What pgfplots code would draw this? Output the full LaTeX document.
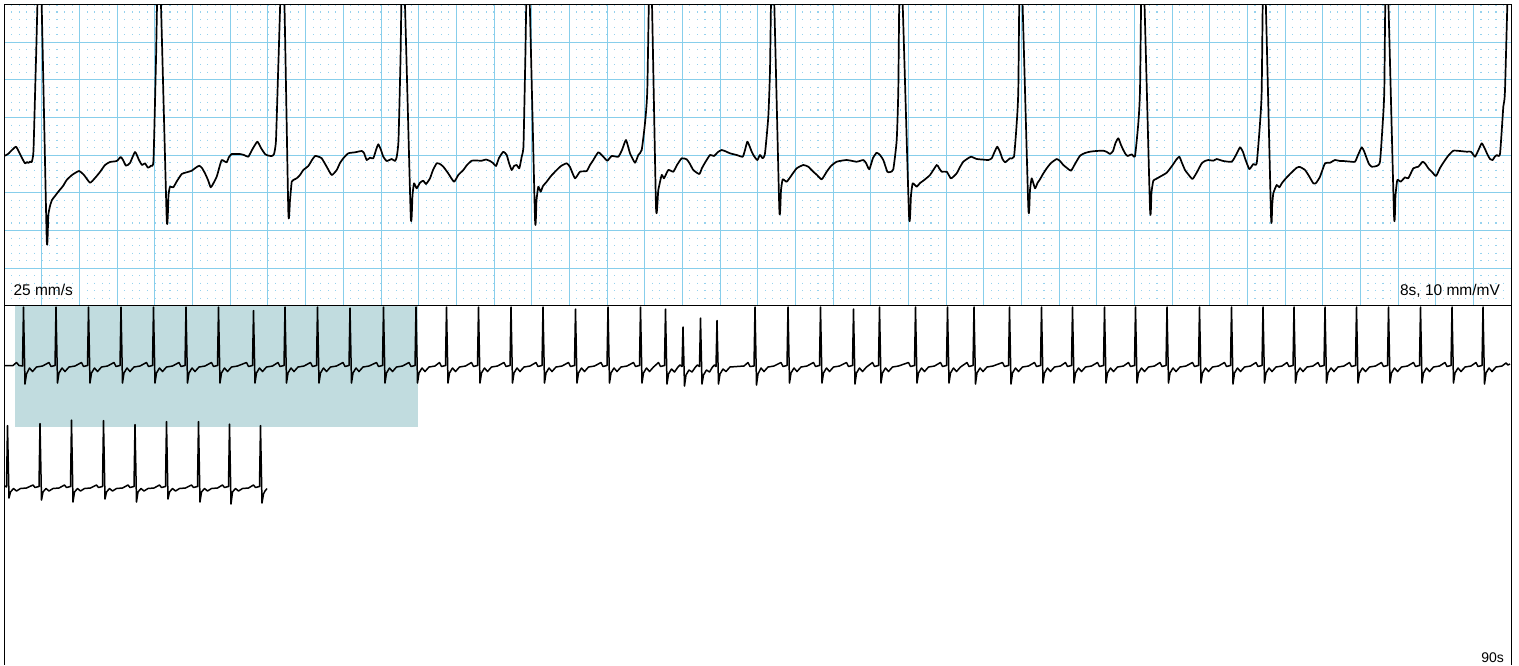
\documentclass[border=0pt]{standalone}
\usepackage{fontspec}
\setmainfont{Liberation Sans}
\usepackage{pgfplots}
\pgfplotsset{compat=1.18}
\definecolor{gridblue}{RGB}{135,206,235}
\definecolor{dotblue}{RGB}{150,210,238}
\definecolor{hl}{RGB}{193,220,223}
\begin{document}
\begin{tikzpicture}
\useasboundingbox (0pt,0pt) rectangle (1519pt,-665pt);
% ---------------- top panel: 8 s strip ----------------
\begin{axis}[
  x=1pt, y=1pt, y dir=reverse,
  anchor=north west, at={(4.3pt,-4.5pt)},
  xmin=4.3, xmax=1511.1, ymin=4.5, ymax=305.86,
  xtick={4.3,41.97,...,1512}, ytick={4.5,42.17,...,307},
  minor xtick={4.3,11.834,...,1512},
  xticklabels={}, yticklabels={},
  major tick length=0pt, minor tick length=0pt,
  xmajorgrids, ymajorgrids, xminorgrids,
  major grid style={gridblue, line width=1pt},
  minor grid style={dotblue, line width=1.1pt, dash pattern=on 1.1pt off 6.434pt, dash phase=0.55pt},
  axis line style={black, line width=1.2pt},
]
\addplot[black, line width=1.7pt, line join=round, smooth, tension=0.3] coordinates {
(4.7,155.7) (8,154) (12,150) (16,146.7) (19,152) (22,158) (25,163.3) (27,162) (28.5,163) (30,161.5) (31.7,162)
(33.5,150) (36,60) (40,-60) (46.7,238.3) (48.3,215) (50,206) (52,200) (55,196) (58.3,191.7) (63,186) (66.7,180) (72,175) (79,171) (84,175) (90,182.7) (95,178) (100,172) (105,165) (110,162) (116.7,161) (120.7,157) (123,160) (126,165.7) (130,163) (135,152) (139,160) (142,165) (145,163.3) (148,167.7) (151,165.7)
(153.5,160) (156,60) (159,-60) (166.7,218.3) (168.5,195) (170,186.7) (173.3,187.3) (177,181) (181.7,174) (186,172.5) (191.7,170.7) (196,167.5) (199.3,165.7) (202,168) (205,173.3) (208,180) (210.7,187.3) (213,184) (216.7,176.7) (220,165) (221.7,160) (224,161) (226.7,162.3) (229,157) (231.7,154) (236,154) (240,154) (244,155) (248.3,156.7) (252,150) (257.3,141.7) (261,148) (265,154) (268,155.5) (271.7,156) (274,154)
(276,140) (278.5,60) (283,-60) (288.3,210.7) (290,200) (291.7,181.7) (293.3,180) (296.7,178.3) (300,175) (303.3,170) (308.3,166) (312,160) (315,156) (318,156.5) (321.7,158.3) (326.7,166.7) (331.7,175) (336.7,170) (340,163) (343.3,158.3) (348.3,153.3) (355,152.3) (361.7,151) (364,153) (366.7,160) (370,157.7) (373.3,158.3) (376,150) (378.3,144.3) (381,150) (383.3,156.7) (386.7,161) (391.7,159) (395,161) (396.7,157)
(398.5,140) (400.5,60) (403,-60) (410.7,215) (412.5,195) (414,183.3) (416.7,188.3) (420,182.7) (423.3,180.7) (426,184) (430,178.3) (433,170) (436.7,163.3) (440,164) (443.3,166.7) (448,173) (454,181.7) (458.3,175) (463.3,170) (467,165) (471.7,160.7) (476,160.5) (481.7,160.7) (486,159.5) (490,161) (493,163) (496,166) (499,158) (503.3,151.7) (506.7,155) (509,163) (511.7,170) (514,166) (516.7,165) (519.3,168.3) (521.7,156.7)
(523.5,145) (525.3,60) (528,-60) (535,218.3) (536.5,200) (538.3,186.7) (540.7,191.7) (543,186) (546.7,181.7) (551,176) (556.7,170) (561,166) (566.7,163.3) (570,167) (575,178.3) (580,171.7) (586.7,171) (590,165) (593.3,160) (598.3,152.3) (603.3,156.7) (607.3,160.7) (611.7,156) (618.3,156.7) (622,150) (626,140) (630,153.3) (635,162.7) (638.3,155) (641.7,150)
(645,123) (647.3,90) (650.5,-60) (656,206.7) (658.3,190) (661.7,175) (664,178.3) (668.3,170) (673.3,171.7) (677,165) (681.7,158.3) (686.7,159.3) (690,164) (693.3,170) (699.3,174) (702,168) (705,162.7) (710,155) (714,156) (718,152) (721.7,150) (726,151.5) (730,153.3) (736.7,155) (742.7,156.7) (745,150) (747.3,141.7) (749.5,146) (751.7,151.7) (754,156) (757.3,160) (760,155) (762.7,158.3) (765,153.3)
(768.3,116.7) (770,70) (772.5,-60) (779.3,208.3) (781,190) (782.7,179.3) (786.7,181.7) (791.7,175) (796.7,168.3) (803.3,165) (808.3,166.7) (813.3,171.7) (817,175) (821.7,179.3) (826.7,171.7) (831,166) (836.7,161.7) (846.7,160) (856.7,161.7) (863.3,160) (866,163) (869.3,169.3) (873,158) (876.7,152.7) (880,155) (883.3,160) (887.3,171.7) (890,172) (893.3,169.3)
(896.7,140) (898.3,90) (900.5,-60) (909,215) (911,195) (912.7,183.3) (916.7,186.7) (920,183) (923.3,180.7) (930,175) (936.7,165) (939,168) (941.7,171.7) (946.7,171.7) (950.7,178.3) (953,177) (956.7,173.3) (960,167) (963.3,161.7) (967,159) (971,156.7) (976.7,159) (982,159.5) (988.3,160) (991.7,158.3) (994.5,152) (997.3,146.7) (1000,152) (1002.5,159) (1005,162.3) (1008,160) (1010,158.3) (1014,156.7)
(1016.7,123.3) (1018.3,90) (1020.5,-60) (1028.3,206.7) (1030,190) (1031.7,178.3) (1035,188.3) (1037.5,183) (1040,179.3) (1043,174) (1046.7,168.3) (1051,163) (1056.7,159) (1060,161) (1063.3,165) (1067,168) (1071,170.7) (1075,164) (1080,155.7) (1085,153) (1090,151.7) (1096,151) (1103.3,150.7) (1107,152) (1110,154) (1113,151) (1115.5,143) (1118.3,138.3) (1121,145) (1123.3,150) (1125.5,154) (1127.7,156) (1131.7,154.3) (1135,156)
(1138.3,123.3) (1140,90) (1142.5,-60) (1150,208.3) (1151.5,192) (1153.3,180.7) (1156,179) (1160,176.7) (1166.7,172.7) (1172.7,165) (1176,160) (1179.3,156.7) (1182,163) (1185,170) (1188,174) (1192.5,179) (1197,172) (1201.7,163.3) (1205,161) (1208.3,160) (1213.3,160.7) (1216.7,159) (1223.3,161) (1231.7,161.7) (1236,155) (1240,147.3) (1243,152) (1245,158.3) (1249.3,169) (1253.3,164) (1256.7,163.3)
(1260,123.3) (1261.7,90) (1264,-60) (1271,215) (1272.2,205) (1273.3,193.3) (1276.7,185) (1279.3,187.3) (1282,183) (1285,179.3) (1290,174) (1296.7,167.7) (1300,167) (1305,170) (1309,176) (1313.3,183.3) (1316,183) (1320,176.7) (1325,163.3) (1330,162.7) (1335,160) (1340,161) (1343.3,161) (1349,161.5) (1355,161.7) (1358,155) (1361.7,147.3) (1364,151) (1366.7,158.3) (1369,164) (1371.7,166.7) (1376.7,166) (1380,161.7)
(1382.7,123.3) (1384.3,90) (1386.5,-60) (1394,215) (1395.5,195) (1397.3,180) (1400.7,181.7) (1405,177.3) (1408.3,178.3) (1413.3,168.3) (1418.3,166.7) (1422.7,161.7) (1425.5,164) (1428.3,168.3) (1432,172) (1436,176) (1440,168) (1443.3,162.7) (1448,156) (1453.3,150.7) (1460,151) (1466.7,151.7) (1471,151.7) (1475,156.7) (1478,151) (1481.7,143.3) (1484.5,148) (1487.7,155) (1490,159) (1492.7,160) (1494.5,157) (1496.7,155) (1500,154)
(1503.3,106.7) (1505,90) (1509,-60)
};
\node[anchor=base west, font=\fontsize{15.5}{18}\selectfont] at (axis cs:10,295) {25 mm/s};
\node[anchor=base east, font=\fontsize{15.5}{18}\selectfont] at (axis cs:1503.5,295) {8s, 10 mm/mV};
\end{axis}
% ---------------- overview ----------------
\begin{axis}[
  x=1pt, y=1pt, y dir=reverse,
  anchor=north west, at={(4.3pt,-305.86pt)},
  xmin=4.3, xmax=1511.1, ymin=305.86, ymax=665,
  hide x axis, ytick=\empty,
  axis line style={black, line width=1.2pt},
]
\addplot[draw=none, fill=hl] coordinates {(15,306) (417.7,306) (417.7,427) (15,427)} -- cycle;
\addplot[black, line width=1.5pt, line join=round] coordinates {
(5,365.5) (13,365.5) (16.5,362.5) (19,365.5) (22.5,366)
(23.5,307) (25,384) (26.5,374) (29.5,368) (32.5,371.5) (36.5,367) (42.5,366) (49,362.5) (51,366.5) (55,365.5)
(56,307) (57.5,383) (59,373) (62,368) (65,371.5) (69,367) (75,366) (81.5,362.5) (83.5,366.5) (87.5,365.5)
(88.5,307) (90,383) (91.5,373) (94.5,368) (97.5,371.5) (101.5,367) (107.5,366) (114,362.5) (116,366.5) (120,365.5)
(121,307) (122.5,383) (124,373) (127,368) (130,371.5) (134,367) (140,366) (146.5,362.5) (148.5,366.5) (152.5,365.5)
(153.5,307) (155,383) (156.5,373) (159.5,368) (162.5,371.5) (166.5,367) (172.5,366) (179,362.5) (181,366.5) (185,365.5)
(186,307) (187.5,383) (189,373) (192,368) (195,371.5) (199,367) (205,366) (211.5,362.5) (213.5,366.5) (217.5,365.5)
(218.5,307) (220,383) (221.5,373) (224.5,368) (227.5,371.5) (231.5,367) (237.5,366) (246.5,362.5) (248.5,366.5) (252.5,365.5)
(253.5,310.5) (255,383) (256.5,373) (259.5,368) (262.5,371.5) (266.5,367) (272.5,366) (278,362.5) (280,366.5) (284,365.5)
(285,307) (286.5,383) (288,373) (291,368) (294,371.5) (298,367) (304,366) (310.5,362.5) (312.5,366.5) (316.5,365.5)
(317.5,307) (319,383) (320.5,373) (323.5,368) (326.5,371.5) (330.5,367) (336.5,366) (343,362.5) (345,366.5) (349,365.5)
(350,308) (351.5,383) (353,373) (356,368) (359,371.5) (363,367) (369,366) (376.5,362.5) (378.5,366.5) (382.5,365.5)
(383.5,307) (385,383) (386.5,373) (389.5,368) (392.5,371.5) (396.5,367) (402.5,366) (409,362.5) (411,366.5) (415,365.5)
(416,307) (417.5,383) (419,373) (422,368) (425,371.5) (429,367) (435,366) (439.5,362.5) (441.5,366.5) (445.5,365.5)
(446.5,307) (448,383) (449.5,373) (452.5,368) (455.5,371.5) (459.5,367) (465.5,366) (471.5,362.5) (473.5,366.5) (477.5,365.5)
(478.5,307) (480,383) (481.5,373) (484.5,368) (487.5,371.5) (491.5,367) (497.5,366) (504,362.5) (506,366.5) (510,365.5)
(511,307) (512.5,383) (514,373) (517,368) (520,371.5) (524,367) (530,366) (536,362.5) (538,366.5) (542,365.5)
(543,307) (544.5,383) (546,373) (549,368) (552,371.5) (556,367) (562,366) (568.5,362.5) (570.5,366.5) (574.5,365.5)
(575.5,309) (577,383) (578.5,373) (581.5,368) (584.5,371.5) (588.5,367) (594.5,366) (601,362.5) (603,366.5) (607,365.5)
(608,307) (609.5,383) (611,373) (614,368) (617,371.5) (621,367) (627,366) (633.5,362.5) (635.5,366.5) (639.5,365.5)
(640.5,307) (642,383) (643.5,373) (646.5,368) (649.5,371.5) (653.5,367) (658.5,362.5) (660.5,366.5) (664.5,365.5)
(665.5,309) (667,384) (668.5,374) (671.5,369) (674.5,372) (678,367) (680,365) (682,366.5)
(683,327) (684.5,386) (686,375) (689,370) (692,372) (695.5,367) (697.5,365) (699.5,366.5)
(700.5,318) (702,384) (703.5,375) (706.5,370) (709.5,372) (712.5,367) (714.5,365) (716,366.5)
(717,320.5) (718.5,384) (720,374) (723,369) (726,371.5) (730,367) (737,366.5) (744,366) (748,362.5) (750,366.5) (754,366)
(755,307) (756.5,385) (758,374) (761,368) (764,371.5) (768,367) (774,366) (781,362.5) (783,366.5) (787,365.5)
(788,307) (789.5,383) (791,373) (794,368) (797,371.5) (801,367) (807,366) (813.5,362.5) (815.5,366.5) (819.5,365.5)
(820.5,307) (822,383) (823.5,373) (826.5,368) (829.5,371.5) (833.5,367) (839.5,366) (846.5,362.5) (848.5,366.5) (852.5,365.5)
(853.5,309) (855,384) (856.5,373) (859.5,368) (862.5,371.5) (866.5,367) (872.5,362.5) (874.5,366.5) (878.5,365.5)
(879.5,307) (881,383) (882.5,373) (885.5,368) (888.5,371.5) (892.5,367) (898.5,366) (908.5,362.5) (910.5,366.5) (914.5,365.5)
(915.5,307) (917,383) (918.5,373) (921.5,368) (924.5,371.5) (928.5,367) (934.5,366) (940.5,362.5) (942.5,366.5) (946.5,365.5)
(947.5,307) (949,383) (950.5,373) (953.5,368) (956.5,371.5) (960.5,367) (967,362.5) (969,366.5) (973,365.5)
(974,307) (975.5,384) (977,373) (980,368) (983,371.5) (987,367) (993,366) (1002.5,362.5) (1004.5,366.5) (1008.5,365.5)
(1009.5,307) (1011,384) (1012.5,373) (1015.5,368) (1018.5,371.5) (1022.5,367) (1028.5,366) (1034.5,362.5) (1036.5,366.5) (1040.5,365.5)
(1041.5,307) (1043,383) (1044.5,373) (1047.5,368) (1050.5,371.5) (1054.5,367) (1060.5,366) (1065.5,362.5) (1067.5,366.5) (1071.5,365.5)
(1072.5,307) (1074,383) (1075.5,373) (1078.5,368) (1081.5,371.5) (1085.5,367) (1091.5,366) (1097.5,362.5) (1099.5,366.5) (1103.5,365.5)
(1104.5,307) (1106,383) (1107.5,373) (1110.5,368) (1113.5,371.5) (1117.5,367) (1123.5,366) (1128.5,362.5) (1130.5,366.5) (1134.5,365.5)
(1135.5,307) (1137,383) (1138.5,373) (1141.5,368) (1144.5,371.5) (1148.5,367) (1154.5,366) (1160,362.5) (1162,366.5) (1166,365.5)
(1167,307) (1168.5,383) (1170,373) (1173,368) (1176,371.5) (1180,367) (1186,366) (1192.5,362.5) (1194.5,366.5) (1198.5,365.5)
(1199.5,307) (1201,383) (1202.5,373) (1205.5,368) (1208.5,371.5) (1212.5,367) (1218.5,366) (1224.5,362.5) (1226.5,366.5) (1230.5,365.5)
(1231.5,307) (1233,384) (1234.5,373) (1237.5,368) (1240.5,371.5) (1244.5,367) (1250.5,366) (1256,362.5) (1258,366.5) (1262,365.5)
(1263,307) (1264.5,383) (1266,373) (1269,368) (1272,371.5) (1276,367) (1282,366) (1287,362.5) (1289,366.5) (1293,365.5)
(1294,307) (1295.5,383) (1297,373) (1300,368) (1303,371.5) (1307,367) (1313,366) (1318,362.5) (1320,366.5) (1324,365.5)
(1325,307) (1326.5,383) (1328,373) (1331,368) (1334,371.5) (1338,367) (1344,366) (1349.5,362.5) (1351.5,366.5) (1355.5,365.5)
(1356.5,307) (1358,383) (1359.5,373) (1362.5,368) (1365.5,371.5) (1369.5,367) (1375.5,366) (1381.5,362.5) (1383.5,366.5) (1387.5,365.5)
(1388.5,307) (1390,383) (1391.5,373) (1394.5,368) (1397.5,371.5) (1401.5,367) (1407.5,366) (1413.5,362.5) (1415.5,366.5) (1419.5,365.5)
(1420.5,307) (1422,383) (1423.5,373) (1426.5,368) (1429.5,371.5) (1433.5,367) (1439.5,366) (1445,362.5) (1447,366.5) (1451,365.5)
(1452,307) (1453.5,383) (1455,373) (1458,368) (1461,371.5) (1465,367) (1471,366) (1476,362.5) (1478,366.5) (1482,365.5)
(1483,307) (1484.5,384) (1486,373) (1489,368) (1492,371.5) (1496,367) (1502,366) (1506,363) (1508,365) (1510,364)
};
\addplot[black, line width=1.5pt, line join=round] coordinates {
(5,486) (6.5,487)
(7.5,425.5) (9,498) (10.5,492) (13.5,488.5) (16.5,491) (20.5,488.5) (26.5,488) (33,485) (35,487.5) (39,486.5)
(40,423.5) (41.5,500) (43,492) (46,488.5) (49,491) (53,488.5) (59,488) (64.5,485) (66.5,487.5) (70.5,486.5)
(71.5,420) (73,502) (74.5,492) (77.5,488.5) (80.5,491) (84.5,488.5) (90.5,488) (96.5,485) (98.5,487.5) (102.5,486.5)
(103.5,420.5) (105,499) (106.5,492) (109.5,488.5) (112.5,491) (116.5,488.5) (122.5,488) (128,485) (130,487.5) (134,486.5)
(135,424.5) (136.5,502) (138,492) (141,488.5) (144,491) (148,488.5) (154,488) (159.5,485) (161.5,487.5) (165.5,486.5)
(166.5,421.5) (168,499) (169.5,492) (172.5,488.5) (175.5,491) (179.5,488.5) (185.5,488) (191.5,485) (193.5,487.5) (197.5,486.5)
(198.5,421.5) (200,502) (201.5,492) (204.5,488.5) (207.5,491) (211.5,488.5) (217.5,488) (222.5,485) (224.5,487.5) (228.5,486.5)
(229.5,424) (231,504) (232.5,492) (235.5,488.5) (238.5,491) (242.5,488.5) (248.5,488) (253.5,485) (255.5,487.5) (259.5,486.5)
(260.5,425.5) (262,503) (263.5,494) (265,491) (267,488.5)
};
\node[anchor=base east, font=\fontsize{14}{16}\selectfont] at (axis cs:1507.5,662.5) {90s};
\end{axis}
\end{tikzpicture}
\end{document}
